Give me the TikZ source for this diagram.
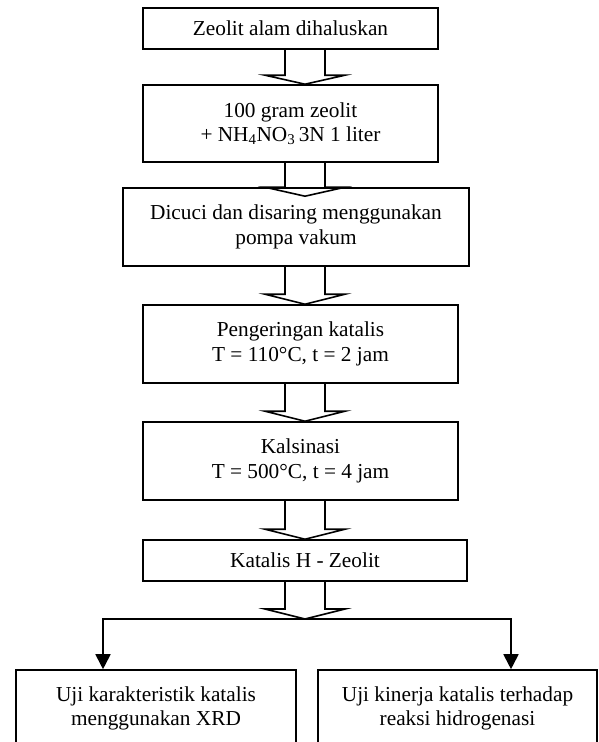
\documentclass[tikz,border=0pt]{standalone}
\usepackage{fontspec}
\setmainfont{Liberation Serif}
\usetikzlibrary{calc,arrows.meta}
\begin{document}
\begin{tikzpicture}[x=1pt,y=-1pt,
  box/.style={draw, line width=1.6pt, align=center, inner sep=0pt,
    font=\fontsize{21.3}{24.5}\selectfont},
  blk/.style={draw, line width=1.6pt, line join=miter},
  conn/.style={draw, line width=1.8pt, -{Triangle[length=15pt,width=15pt]}}]
\clip (0,0) rectangle (598,742);
\fill[white] (0,0) rectangle (598,742);
\coordinate (ax) at (305,0);
\coordinate (lx) at (103,0);
\coordinate (rx) at (511,0);
\coordinate (split) at (305,619);

\node[box, minimum width=295pt, minimum height=41pt] (b1) at (290.5,28.5) {Zeolit alam dihaluskan};
\node[box, minimum width=295pt, minimum height=77pt] (b2) at (290.5,123.5) {100 gram zeolit\\+ NH\textsubscript{4}NO\textsubscript{3}\,3N 1 liter};
\node[box, minimum width=346pt, minimum height=78pt] (b3) at (296,227) {Dicuci dan disaring menggunakan\\pompa vakum};
\node[box, minimum width=315pt, minimum height=78pt] (b4) at (300.5,344) {Pengeringan katalis\\T = 110°C, t = 2 jam};
\node[box, minimum width=315pt, minimum height=78pt] (b5) at (300.5,461) {Kalsinasi\\T = 500°C, t = 4 jam};
\node[box, minimum width=324pt, minimum height=41pt] (b6) at (305,560.5) {Katalis H - Zeolit};
\node[box, minimum width=280pt, minimum height=77pt] (b7) at (156,708.5) {Uji karakteristik katalis\\menggunakan XRD};
\node[box, minimum width=279pt, minimum height=77pt] (b8) at (457.5,708.5) {Uji kinerja katalis terhadap\\reaksi hidrogenasi};

% block arrows
\draw[blk] ($(ax|-b1.south)+(-20,0)$) -- ($(ax|-b2.north)+(-20,-9)$) -- ++(-20,0) -- (ax|-b2.north)
  -- ($(ax|-b2.north)+(40,-9)$) -- ++(-20,0) -- ($(ax|-b1.south)+(20,0)$);
\draw[blk] ($(ax|-b2.south)+(-20,0)$) -- ($(ax|-b3.north)+(-20,0)$) -- ++(-20,0) -- ($(ax|-b3.north)+(0,9)$)
  -- ($(ax|-b3.north)+(40,0)$) -- ++(-20,0) -- ($(ax|-b2.south)+(20,0)$);
\draw[blk] ($(ax|-b3.south)+(-20,0)$) -- ($(ax|-b4.north)+(-20,-10)$) -- ++(-20,0) -- (ax|-b4.north)
  -- ($(ax|-b4.north)+(40,-10)$) -- ++(-20,0) -- ($(ax|-b3.south)+(20,0)$);
\draw[blk] ($(ax|-b4.south)+(-20,0)$) -- ($(ax|-b5.north)+(-20,-10)$) -- ++(-20,0) -- (ax|-b5.north)
  -- ($(ax|-b5.north)+(40,-10)$) -- ++(-20,0) -- ($(ax|-b4.south)+(20,0)$);
\draw[blk] ($(ax|-b5.south)+(-20,0)$) -- ($(ax|-b6.north)+(-20,-10)$) -- ++(-20,0) -- (ax|-b6.north)
  -- ($(ax|-b6.north)+(40,-10)$) -- ++(-20,0) -- ($(ax|-b5.south)+(20,0)$);
\draw[blk] ($(ax|-b6.south)+(-20,0)$) -- ($(split)+(-20,-10)$) -- ++(-20,0) -- (split)
  -- ($(split)+(40,-10)$) -- ++(-20,0) -- ($(ax|-b6.south)+(20,0)$);

% branches
\draw[conn] (split) -| (lx|-b7.north);
\draw[conn] (split) -| (rx|-b8.north);
\end{tikzpicture}
\end{document}
